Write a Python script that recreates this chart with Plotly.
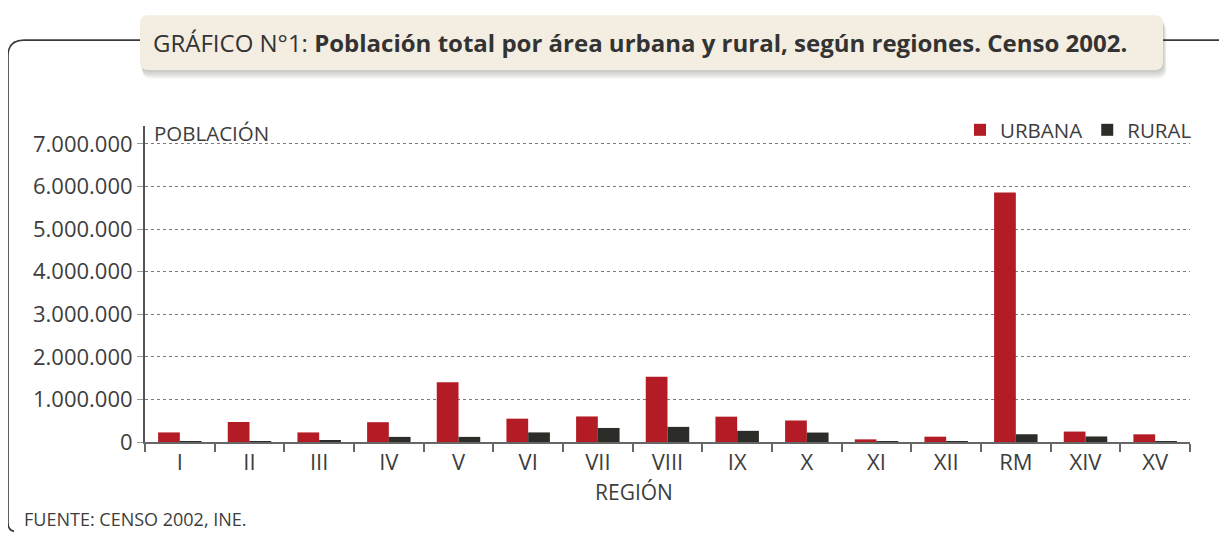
import plotly.graph_objects as go

regiones = ["I", "II", "III", "IV", "V", "VI", "VII", "VIII", "IX", "X",
            "XI", "XII", "RM", "XIV", "XV"]
urbana = [225000, 470000, 225000, 465000, 1405000, 548000, 600000, 1535000,
          595000, 505000, 62000, 125000, 5860000, 245000, 180000]
rural = [3000, 3000, 25000, 120000, 120000, 225000, 330000, 355000,
         262000, 222000, 9000, 3000, 182000, 130000, 3000]
y_ticks = [0, 1000000, 2000000, 3000000, 4000000, 5000000, 6000000, 7000000]
y_tick_text = ["0", "1.000.000", "2.000.000", "3.000.000", "4.000.000",
               "5.000.000", "6.000.000", "7.000.000"]

# page is drawn with an 8px body margin: work in page pixels, convert
OFF = 8
W, H = 1227 - OFF, 533 - OFF
PL, PR, PT, PB = 145, 1190, 126, 442.5      # plot area in page pixels
ML, MT = PL - OFF, PT - OFF
MR, MB = W - (PR - OFF), H - (PB - OFF)
PW, PH = PR - PL, PB - PT


def px(xp):
    return (xp - PL) / PW


def py(yp):
    return (PB - yp) / PH


FONT = "Open Sans"
TXT = "#3d3d3d"

fig = go.Figure()
fig.add_trace(go.Bar(name="URBANA", x=regiones, y=urbana,
                     marker=dict(color="#B31B25", line=dict(width=0))))
fig.add_trace(go.Bar(name="RURAL", x=regiones, y=rural,
                     marker=dict(color="#2C2C28", line=dict(width=0))))


def rrect(x0, y0, x1, y1, r):
    rx, ry = r / PW, r / PH
    a, b, c, d = px(x0), py(y0), px(x1), py(y1)
    return (f"M{a+rx},{b} L{c-rx},{b} Q{c},{b} {c},{b-ry} "
            f"L{c},{d+ry} Q{c},{d} {c-rx},{d} L{a+rx},{d} "
            f"Q{a},{d} {a},{d+ry} L{a},{b-ry} Q{a},{b} {a+rx},{b} Z")


shapes = []
r = 16
fx0, fy0, fx1 = 8, 40, 1240
frame = (f"M{px(fx1)},{py(fy0)} L{px(fx0 + r)},{py(fy0)} "
         f"Q{px(fx0)},{py(fy0)} {px(fx0)},{py(fy0 + r)} "
         f"L{px(fx0)},{py(523)} Q{px(fx0)},{py(531)} {px(fx0 + 6)},{py(532)}")
shapes.append(dict(type="path", xref="paper", yref="paper", path=frame,
                   line=dict(color="#3a3a3a", width=1.6), layer="above"))
for i in range(5):
    o = 2 + i * 1.6
    shapes.append(dict(type="path", xref="paper", yref="paper",
                       path=rrect(140 + o * 0.3, 15 + o, 1163 + o * 0.4, 70 + o, 8),
                       fillcolor="rgba(60,50,30,0.055)", line=dict(width=0),
                       layer="above"))
shapes.append(dict(type="path", xref="paper", yref="paper",
                   path=rrect(140, 15, 1163, 70, 8),
                   fillcolor="#F3EEE1", line=dict(width=0), layer="above"))

annotations = [
    dict(xref="paper", yref="paper", x=px(151), y=py(42), xanchor="left",
         yanchor="middle", showarrow=False,
         text="GRÁFICO N°1: <b>Población total por área urbana y rural, según regiones. Censo 2002.</b>",
         font=dict(family=FONT, size=24, color="#333333")),
    dict(xref="paper", yref="paper", x=px(152), y=py(133), xanchor="left",
         yanchor="middle", showarrow=False, text="POBLACIÓN",
         font=dict(family=FONT, size=20.5, color=TXT)),
    dict(xref="paper", yref="paper", x=px(634), y=py(493), xanchor="center",
         yanchor="middle", showarrow=False, text="REGIÓN",
         font=dict(family=FONT, size=21, color=TXT)),
    dict(xref="paper", yref="paper", x=px(22), y=py(520), xanchor="left",
         yanchor="middle", showarrow=False, text="FUENTE: CENSO 2002, INE.",
         font=dict(family=FONT, size=18, color=TXT)),
]

fig.update_layout(
    width=W, height=H,
    margin=dict(l=ML, r=MR, t=MT, b=MB, autoexpand=False),
    paper_bgcolor="white", plot_bgcolor="white",
    barmode="group", bargap=0.376, bargroupgap=0,
    font=dict(family=FONT, size=20, color=TXT),
    showlegend=True,
    legend=dict(orientation="h", x=px(1197), xanchor="right", y=py(130),
                yanchor="middle", font=dict(family=FONT, size=20.5, color=TXT),
                bgcolor="rgba(0,0,0,0)", itemwidth=30, tracegroupgap=0,
                traceorder="normal"),
    shapes=shapes, annotations=annotations,
    xaxis=dict(type="category", showline=True, linecolor="#666666", linewidth=2,
               ticks="outside", tickson="boundaries", ticklen=8, tickwidth=2,
               tickcolor="#666666", showgrid=False, zeroline=False,
               tickfont=dict(family=FONT, size=22, color=TXT), fixedrange=True),
    yaxis=dict(range=[0, 7420000], tickvals=y_ticks, ticktext=y_tick_text,
               showline=True, linecolor="#555555", linewidth=2,
               ticks="outside", ticklen=6, tickwidth=1, tickcolor="#999999",
               showgrid=True, gridcolor="#7a7a7a", gridwidth=1, griddash="dot",
               zeroline=False, tickfont=dict(family=FONT, size=22, color=TXT),
               fixedrange=True),
)

fig.write_html("out.html")
